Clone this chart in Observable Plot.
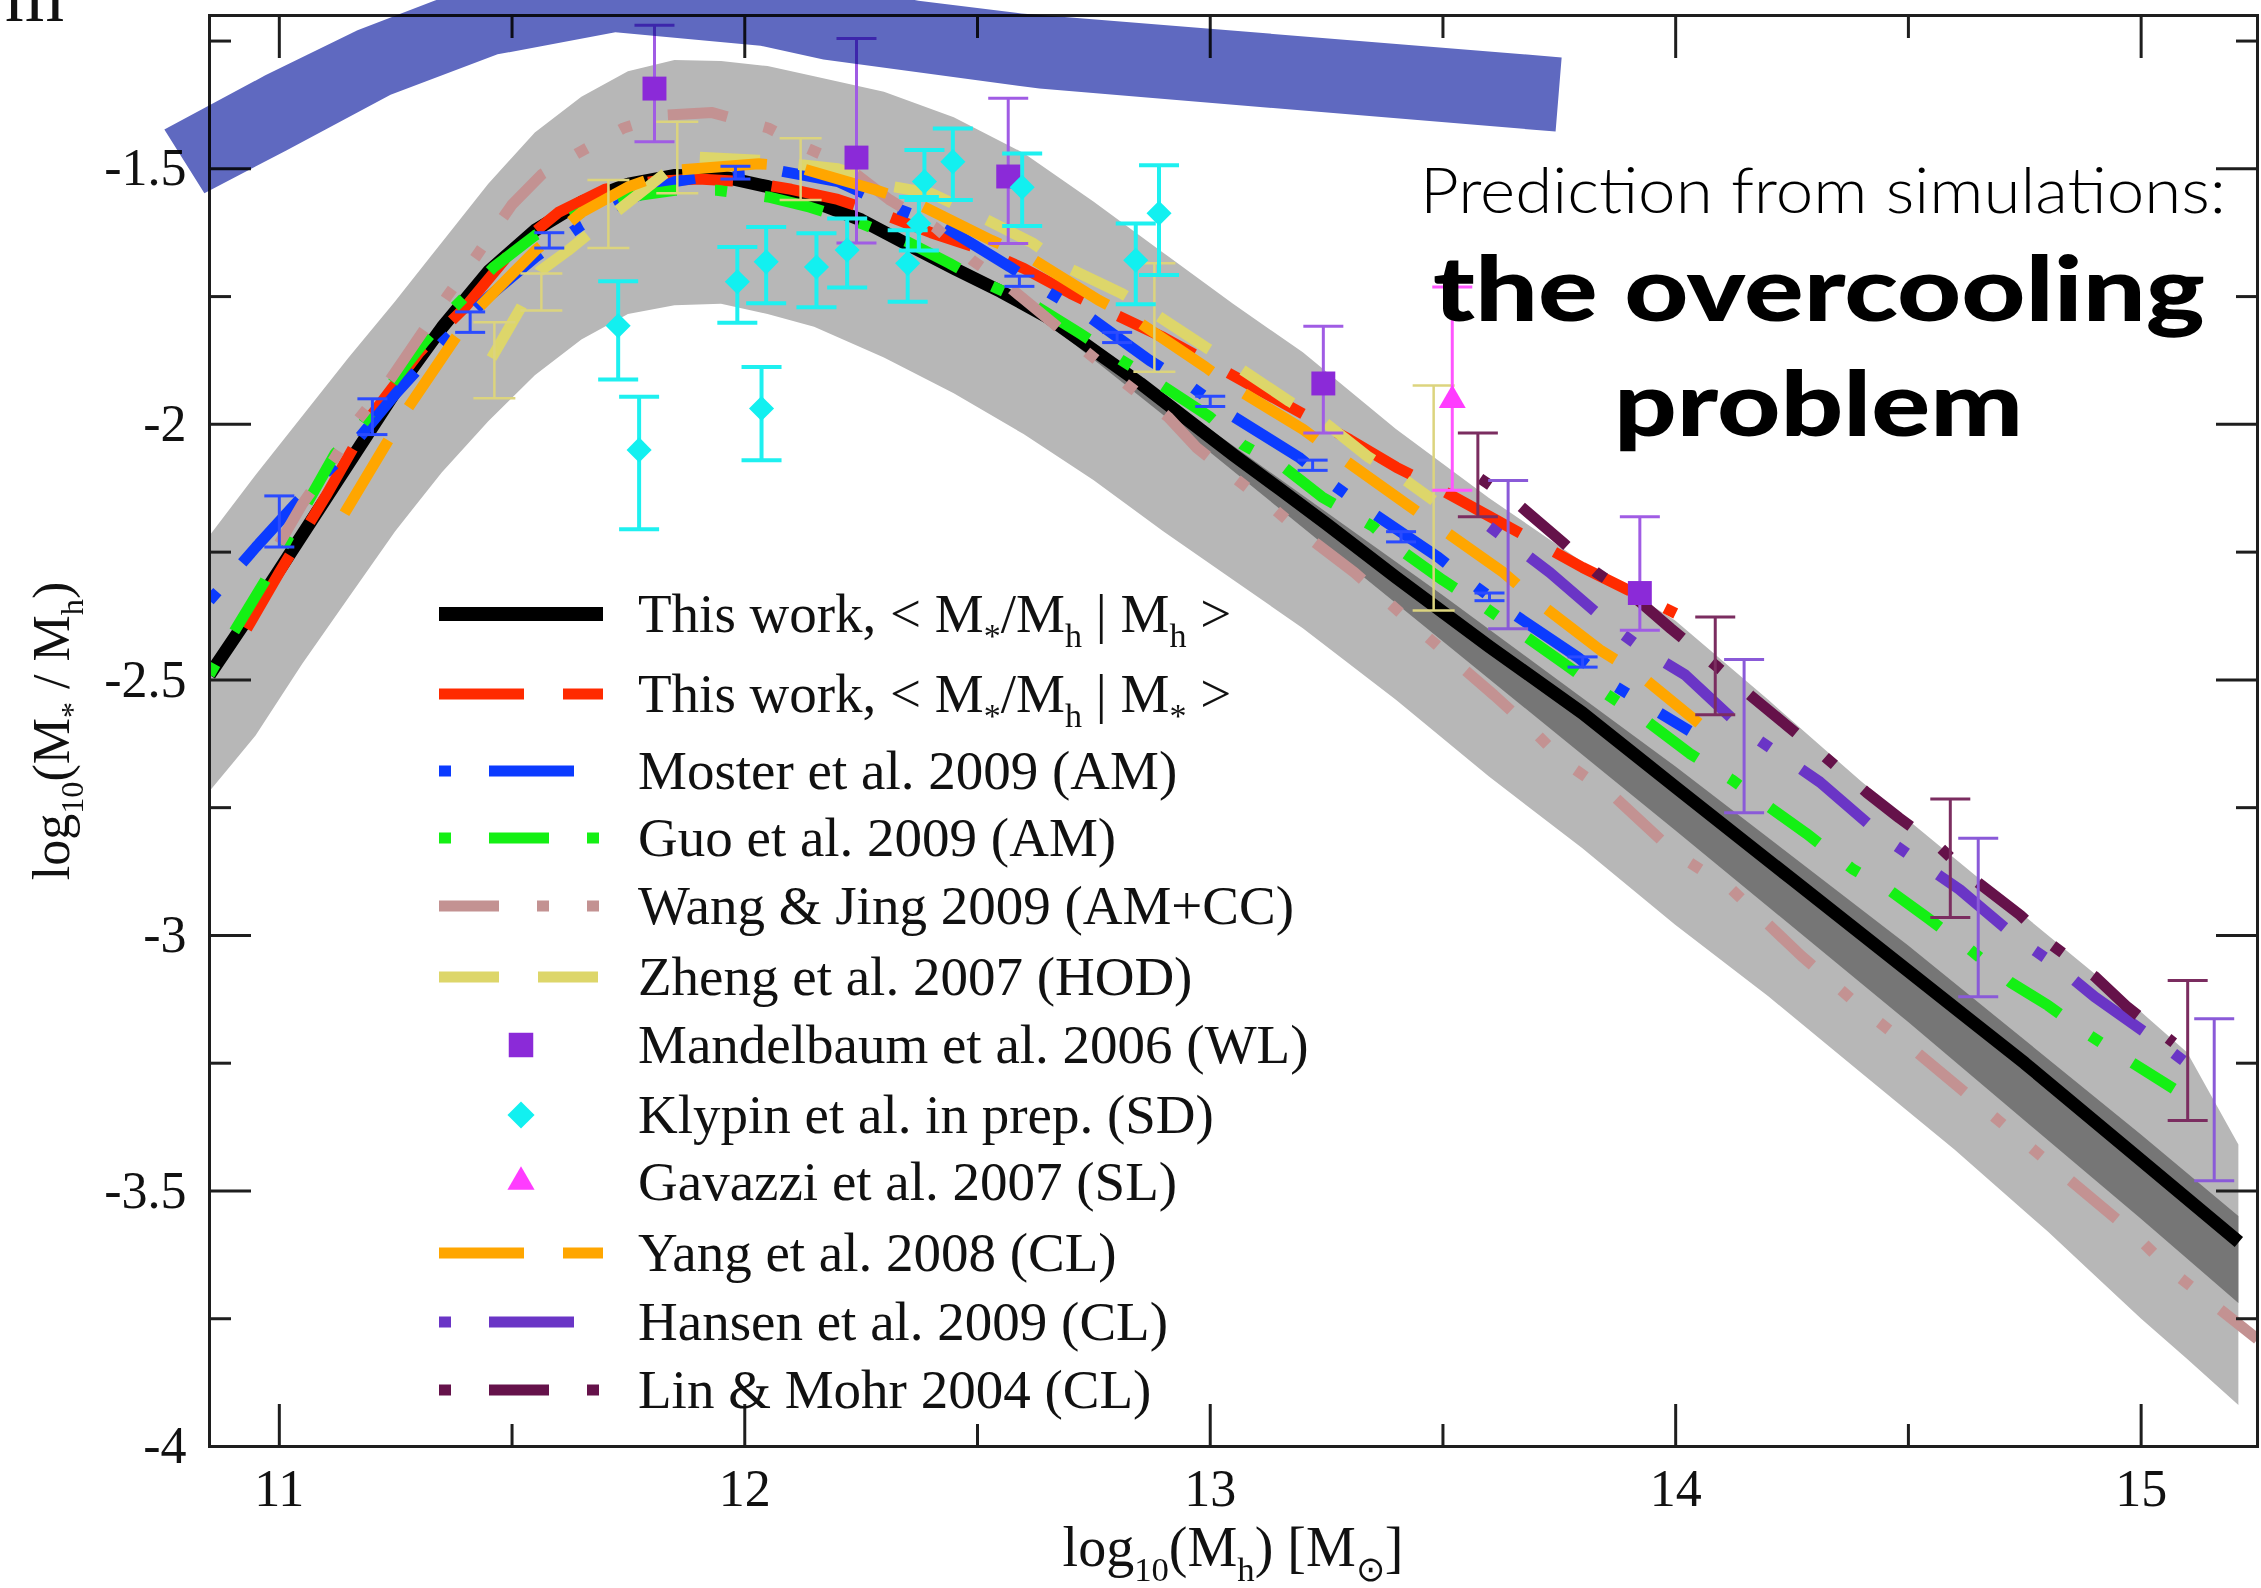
<!DOCTYPE html>
<html><head><meta charset="utf-8">
<script src="https://cdn.jsdelivr.net/npm/d3@7"></script>
<script src="https://cdn.jsdelivr.net/npm/@observablehq/plot@0.6"></script>
<style>
html,body{margin:0;padding:0;background:#fff;overflow:hidden;}
#chart{position:relative;width:2261px;height:1588px;}
</style></head><body><div id="chart"></div>
<script>
// ================= DATA =================
const xMajorTicks = [11, 12, 13, 14, 15];
const xMinorTicks = [11.5, 12.5, 13.5, 14.5];
const yMajorTicks = [-4, -3.5, -3, -2.5, -2, -1.5];
const yMinorTicks = [-3.75, -3.25, -2.75, -2.25, -1.75, -1.25];

// light grey scatter band: [log Mh, lower, upper]
const bandX = [10.85,10.95,11.05,11.15,11.25,11.35,11.45,11.55,11.65,11.75,11.85,11.95,12.05,12.15,12.3,12.45,12.6,12.75,12.9,13.05,13.2,13.4,13.6,13.8,14.0,14.2,14.4,14.6,14.8,15.0,15.1,15.21];
const bandUpper = [-2.22,-2.10,-1.985,-1.87,-1.76,-1.645,-1.53,-1.43,-1.36,-1.31,-1.288,-1.29,-1.30,-1.32,-1.35,-1.40,-1.47,-1.565,-1.665,-1.765,-1.86,-2.01,-2.145,-2.27,-2.385,-2.54,-2.70,-2.85,-3.0,-3.15,-3.23,-3.41];
const bandLower = [-2.72,-2.61,-2.47,-2.34,-2.21,-2.095,-1.995,-1.905,-1.835,-1.785,-1.768,-1.765,-1.785,-1.81,-1.87,-1.94,-2.02,-2.11,-2.21,-2.305,-2.40,-2.54,-2.69,-2.83,-2.98,-3.12,-3.27,-3.42,-3.58,-3.75,-3.83,-3.92];
// dark grey band at high mass: [log Mh, lower, upper]
const darkBand = [[12.6,-1.765,-1.765],[13.0,-2.055,-2.01],[13.5,-2.425,-2.335],[14.0,-2.795,-2.67],[14.5,-3.17,-3.02],[15.0,-3.555,-3.39],[15.21,-3.72,-3.55]];

// model curves: [log Mh, log(M*/Mh)]
const thisWorkMh = [[10.85,-2.49],[10.95,-2.355],[11.05,-2.215],[11.15,-2.075],[11.25,-1.935],[11.35,-1.81],[11.45,-1.70],[11.55,-1.62],[11.65,-1.565],[11.75,-1.53],[11.85,-1.513],[11.95,-1.515],[12.05,-1.535],[12.15,-1.565],[12.25,-1.6],[12.35,-1.648],[12.45,-1.695],[12.55,-1.74],[12.65,-1.79],[12.75,-1.855],[12.85,-1.92],[12.95,-1.99],[13.05,-2.06],[13.15,-2.127],[13.25,-2.195],[13.4,-2.30],[13.6,-2.435],[13.8,-2.565],[14.0,-2.71],[14.25,-2.89],[14.5,-3.07],[14.75,-3.25],[15.0,-3.44],[15.21,-3.60]];
const thisWorkMstar = [[10.93,-2.40],[11.0,-2.29],[11.1,-2.14],[11.2,-1.98],[11.3,-1.86],[11.4,-1.77],[11.5,-1.66],[11.6,-1.585],[11.7,-1.54],[11.8,-1.525],[11.9,-1.52],[12.0,-1.525],[12.1,-1.54],[12.2,-1.56],[12.3,-1.59],[12.4,-1.625],[12.5,-1.655],[12.6,-1.695],[12.7,-1.744],[12.8,-1.787],[12.9,-1.83],[13.0,-1.88],[13.1,-1.93],[13.2,-1.98],[13.3,-2.03],[13.4,-2.084],[13.5,-2.13],[13.6,-2.18],[13.7,-2.23],[13.8,-2.28],[13.9,-2.325],[14.0,-2.37]];
const moster = [[10.85,-2.345],[10.95,-2.24],[11.05,-2.14],[11.15,-2.05],[11.25,-1.94],[11.35,-1.84],[11.45,-1.75],[11.55,-1.673],[11.65,-1.61],[11.75,-1.56],[11.85,-1.525],[11.95,-1.51],[12.07,-1.503],[12.2,-1.525],[12.32,-1.575],[12.43,-1.614],[12.57,-1.692],[12.65,-1.74],[12.73,-1.783],[12.87,-1.875],[12.95,-1.92],[13.04,-1.979],[13.19,-2.064],[13.26,-2.116],[13.34,-2.168],[13.49,-2.26],[13.56,-2.31],[13.64,-2.364],[13.79,-2.456],[13.86,-2.507],[14.03,-2.60]];
const guo = [[10.85,-2.49],[10.9,-2.41],[10.97,-2.305],[11.05,-2.17],[11.12,-2.057],[11.18,-1.998],[11.25,-1.91],[11.31,-1.84],[11.37,-1.777],[11.46,-1.693],[11.55,-1.63],[11.65,-1.585],[11.75,-1.555],[11.85,-1.542],[11.94,-1.542],[12.05,-1.555],[12.14,-1.575],[12.25,-1.607],[12.35,-1.643],[12.44,-1.685],[12.52,-1.725],[12.63,-1.771],[12.72,-1.822],[12.81,-1.875],[12.89,-1.92],[13.0,-1.986],[13.07,-2.04],[13.16,-2.085],[13.24,-2.142],[13.35,-2.2],[13.42,-2.253],[13.5,-2.305],[13.59,-2.358],[13.69,-2.423],[13.76,-2.468],[13.85,-2.527],[13.93,-2.575],[14.03,-2.644],[14.12,-2.695],[14.2,-2.748],[14.28,-2.80],[14.38,-2.87],[14.46,-2.912],[14.54,-2.965],[14.63,-3.026],[14.72,-3.092],[14.8,-3.137],[14.88,-3.19],[14.97,-3.243],[15.07,-3.30]];
const wangJing = [[11.0,-2.233],[11.05,-2.155],[11.116,-2.07],[11.17,-1.99],[11.24,-1.91],[11.3,-1.83],[11.36,-1.75],[11.42,-1.675],[11.5,-1.57],[11.565,-1.51],[11.64,-1.47],[11.74,-1.42],[11.83,-1.395],[11.93,-1.39],[12.05,-1.42],[12.13,-1.458],[12.21,-1.49],[12.31,-1.56],[12.41,-1.615],[12.49,-1.68],[12.55,-1.718],[12.66,-1.80],[12.73,-1.855],[12.8,-1.907],[12.91,-1.986],[12.97,-2.045],[13.06,-2.11],[13.13,-2.16],[13.2,-2.214],[13.31,-2.29],[13.41,-2.37],[13.54,-2.475],[13.61,-2.53],[13.70,-2.605],[13.76,-2.66],[13.87,-2.73],[14.0,-2.84],[14.12,-2.91],[14.27,-3.04],[14.41,-3.15],[14.52,-3.23],[14.98,-3.58],[15.07,-3.66],[15.25,-3.79]];
const zheng = [[11.456,-1.87],[11.52,-1.77],[11.56,-1.70],[11.62,-1.66],[11.72,-1.587],[11.83,-1.508],[11.895,-1.477],[12.03,-1.483],[12.2,-1.50],[12.32,-1.535],[12.40,-1.548],[12.51,-1.595],[12.62,-1.646],[12.69,-1.692],[12.81,-1.744],[12.88,-1.783],[12.99,-1.849],[13.06,-1.888],[13.17,-1.955],[13.24,-1.992],[13.34,-2.064],[13.41,-2.103],[13.48,-2.149]];
const yang = [[11.14,-2.174],[11.235,-2.03],[11.277,-1.967],[11.38,-1.829],[11.43,-1.77],[11.55,-1.66],[11.65,-1.585],[11.75,-1.535],[11.85,-1.503],[12.03,-1.49],[12.11,-1.496],[12.28,-1.541],[12.37,-1.568],[12.53,-1.64],[12.61,-1.672],[12.76,-1.757],[12.83,-1.79],[12.99,-1.888],[13.05,-1.927],[13.2,-2.01],[13.28,-2.064],[13.42,-2.155],[13.49,-2.2],[13.63,-2.29],[13.70,-2.345],[13.84,-2.443],[13.92,-2.488],[14.05,-2.585]];
const hansen = [[13.6,-2.20],[13.73,-2.29],[13.87,-2.40],[13.93,-2.44],[14.02,-2.49],[14.15,-2.60],[14.23,-2.65],[14.31,-2.70],[14.45,-2.81],[14.53,-2.86],[14.61,-2.91],[14.74,-3.01],[14.82,-3.06],[14.9,-3.12],[15.04,-3.21],[15.12,-3.265]];
const linMohr = [[13.58,-2.106],[13.66,-2.155],[13.76,-2.233],[13.83,-2.29],[13.92,-2.345],[13.99,-2.40],[14.09,-2.475],[14.16,-2.53],[14.24,-2.59],[14.32,-2.65],[14.41,-2.72],[14.48,-2.77],[14.57,-2.83],[14.64,-2.89],[14.74,-2.96],[14.81,-3.02],[14.9,-3.08],[14.97,-3.14],[15.07,-3.21]];

// observational points: [log Mh, value, low, high]
const mandelbaumPts = [[11.806,-1.343,-1.447,-1.219],[12.24,-1.478,-1.645,-1.245],[12.566,-1.515,-1.646,-1.362],[13.243,-1.92,-2.017,-1.808],[13.923,-2.33,-2.403,-2.181]];
const klypinPts = [[11.728,-1.807,-1.912,-1.72],[11.773,-2.05,-2.205,-1.946],[11.984,-1.721,-1.801,-1.653],[12.036,-1.969,-2.07,-1.888],[12.046,-1.682,-1.763,-1.614],[12.154,-1.692,-1.771,-1.626],[12.22,-1.659,-1.732,-1.597],[12.35,-1.685,-1.76,-1.62],[12.374,-1.607,-1.66,-1.555],[12.386,-1.525,-1.561,-1.463],[12.447,-1.486,-1.561,-1.421],[12.596,-1.536,-1.612,-1.47],[12.84,-1.679,-1.765,-1.607],[12.89,-1.587,-1.708,-1.493]];
const gavazziPts = [[13.52,-1.953,-2.129,-1.731]];
// error bars without symbols: [log Mh, low, high]
const zhengBars = [[11.462,-1.949,-1.80],[11.563,-1.777,-1.705],[11.707,-1.655,-1.522],[11.855,-1.548,-1.408],[12.12,-1.561,-1.44],[12.88,-1.897,-1.685],[13.48,-2.364,-1.924]];
const mosterBars = [[11.0,-2.24,-2.14],[11.2,-2.02,-1.95],[11.41,-1.82,-1.78],[11.58,-1.655,-1.625],[11.98,-1.52,-1.495],[12.59,-1.73,-1.71],[12.80,-1.84,-1.82],[13.0,-1.965,-1.945],[13.22,-2.09,-2.07],[13.41,-2.23,-2.21],[13.6,-2.345,-2.33],[13.8,-2.475,-2.455]];
const hansenBars = [[13.64,-2.40,-2.11],[14.147,-2.76,-2.46],[14.65,-3.12,-2.81],[15.157,-3.48,-3.163]];
const linBars = [[13.575,-2.181,-2.017],[14.085,-2.568,-2.377],[14.59,-2.965,-2.733],[15.1,-3.362,-3.088]];

// hand-drawn "prediction from simulations" band (outline, data coordinates)
const simulationBand = [[10.753,-1.423],[10.970,-1.317],[11.168,-1.229],[11.333,-1.171],[11.469,-1.132],[11.722,-1.089],[12.034,-1.116],[12.373,-1.171],[12.594,-1.196],[13.755,-1.282],[13.742,-1.427],[12.633,-1.343],[12.169,-1.286],[12.034,-1.259],[11.722,-1.233],[11.469,-1.276],[11.239,-1.355],[11.015,-1.464],[10.839,-1.548]];

// legend labels (segments: [text, isSubscript])
const legendLabels = [
  [["This work, < M",0],["*",1],["/M",0],["h",1],[" | M",0],["h",1],[" >",0]],
  [["This work, < M",0],["*",1],["/M",0],["h",1],[" | M",0],["*",1],[" >",0]],
  [["Moster et al. 2009 (AM)",0]],
  [["Guo et al. 2009 (AM)",0]],
  [["Wang & Jing 2009 (AM+CC)",0]],
  [["Zheng et al. 2007 (HOD)",0]],
  [["Mandelbaum et al. 2006 (WL)",0]],
  [["Klypin et al. in prep. (SD)",0]],
  [["Gavazzi et al. 2007 (SL)",0]],
  [["Yang et al. 2008 (CL)",0]],
  [["Hansen et al. 2009 (CL)",0]],
  [["Lin & Mohr 2004 (CL)",0]]
];
const xTitle = [["log",0],["10",1],["(M",0],["h",1],[") [M",0],["\u2299",1],["]",0]];
const yTitle = [["log",0],["10",1],["(M",0],["*",1],[" / M",0],["h",1],[")",0]];
const annotationLines = ["Prediction from simulations:", "the overcooling", "problem"];

// ================= STYLES =================
const S = {
  black:  {color:"#000000", width:13, dash:null},
  red:    {color:"#ff2a00", width:11, dash:"85,39"},
  blue:   {color:"#0b3bff", width:11, dash:"12,38,85,38"},
  green:  {color:"#14f014", width:11, dash:"12,38,60,38"},
  rosy:   {color:"#c39292", width:11, dash:"60,38,12,38,12,38"},
  khaki:  {color:"#ddd66a", width:11, dash:"60,39"},
  orange: {color:"#ffa600", width:11, dash:"85,39"},
  hansen: {color:"#6a35c6", width:11, dash:"12,38,85,38"},
  lin:    {color:"#65124a", width:11, dash:"12,38,60,38"}
};
const SERIF = "'Liberation Serif','Times New Roman',Times,serif";
const capSymbol = {draw(ctx, size){ const r = Math.sqrt(size/Math.PI); ctx.moveTo(-r,0); ctx.lineTo(r,0); }};

const fx = d => d[0], fy = d => d[1];
const curve = (data, st) => Plot.line(data, {x: fx, y: fy, stroke: st.color, strokeWidth: st.width,
  strokeDasharray: st.dash, strokeLinecap: "butt", strokeLinejoin: "round", clip: true});
function bars(data, lo, color, width, cap) {
  return [
    Plot.ruleX(data, {x: fx, y1: d => d[lo], y2: d => d[lo+1], stroke: color, strokeWidth: width}),
    Plot.dot(data, {x: fx, y: d => d[lo], symbol: capSymbol, r: cap, stroke: color, strokeWidth: width, fill: "none"}),
    Plot.dot(data, {x: fx, y: d => d[lo+1], symbol: capSymbol, r: cap, stroke: color, strokeWidth: width, fill: "none"})
  ];
}
const bandRows = bandX.map((x, i) => [x, bandLower[i], bandUpper[i]]);
const tickAxis = (k, anchor, ticks, size) => (k === "x" ? Plot.axisX : Plot.axisY)({anchor, ticks, tickSize: -size,
  tickFormat: () => "", label: null, stroke: "#1e1e1e", strokeWidth: 3});

const chart = Plot.plot({
  width: 2261, height: 1588,
  marginTop: 15, marginLeft: 209, marginRight: 4, marginBottom: 142,
  x: {domain: [10.85, 15.25]},
  y: {domain: [-4, -1.2]},
  style: {fontFamily: SERIF, fontSize: "52px", color: "#111", background: "#fff"},
  marks: [
    Plot.areaY(bandRows, {x: fx, y1: d => d[1], y2: d => d[2], fill: "#b7b7b7", clip: true}),
    Plot.areaY(darkBand, {x: fx, y1: d => d[1], y2: d => d[2], fill: "#767676", clip: true}),
    curve(thisWorkMh, S.black),
    curve(thisWorkMstar, S.red),
    curve(moster, S.blue),
    curve(guo, S.green),
    curve(wangJing, S.rosy),
    curve(zheng, S.khaki),
    curve(yang, S.orange),
    curve(hansen, S.hansen),
    curve(linMohr, S.lin),
    bars(zhengBars, 1, "#dcd47e", 2.5, 21),
    bars(mosterBars, 1, "#2a4bff", 3, 15),
    bars(hansenBars, 1, "#8a5ad8", 3, 20),
    bars(linBars, 1, "#7b2d60", 3, 20),
    bars(mandelbaumPts, 2, "#a05ce4", 3, 20),
    bars(klypinPts, 2, "#1ef0f0", 4, 20),
    bars(gavazziPts, 2, "#ff55ff", 3, 20),
    Plot.dot(mandelbaumPts, {x: fx, y: fy, symbol: "square", r: 13.5, fill: "#8b2ad8", stroke: "none"}),
    Plot.dot(klypinPts, {x: fx, y: fy, symbol: "diamond2", r: 11.3, fill: "#12f0f0", stroke: "none"}),
    Plot.dot(gavazziPts, {x: fx, y: fy, symbol: "triangle", r: 10, fill: "#ff3cff", stroke: "none"}),
    Plot.frame({stroke: "#1e1e1e", strokeWidth: 3}),
    tickAxis("x", "bottom", xMajorTicks, 42), tickAxis("x", "bottom", xMinorTicks, 22),
    tickAxis("x", "top", xMajorTicks, 42), tickAxis("x", "top", xMinorTicks, 22),
    tickAxis("y", "left", yMajorTicks, 42), tickAxis("y", "left", yMinorTicks, 22),
    tickAxis("y", "right", yMajorTicks, 42), tickAxis("y", "right", yMinorTicks, 22),
    Plot.axisX({anchor: "bottom", ticks: xMajorTicks, tickSize: 0, tickPadding: 23, tickFormat: d => String(d), label: null, fontSize: 52, fill: "#111"}),
    Plot.axisY({anchor: "left", ticks: yMajorTicks, tickSize: 0, tickPadding: 23, tickFormat: d => String(d), label: null, fontSize: 52, fill: "#111"}),
    Plot.line(simulationBand, {x: fx, y: fy, fill: "#5f69c0", stroke: "none", clip: false, mixBlendMode: "multiply"})
  ]
});
document.getElementById("chart").appendChild(chart);

// ================= TEXT OVERLAYS (legend, titles, annotation) =================
const svg = d3.select(chart);
function richText(parent, segs, size, subScale = 0.62, subDrop = 0.27) {
  const t = parent.append("text").style("white-space", "pre").attr("font-size", size).attr("text-anchor", "start");
  let shift = 0;
  for (const [s, sub] of segs) {
    const target = sub ? size * subDrop : 0;
    t.append("tspan").attr("font-size", sub ? size * subScale : size).attr("dy", target - shift).text(s);
    shift = target;
  }
  return t;
}
const legendRowY = [614, 694, 771, 838, 906, 977, 1045, 1115, 1182, 1253, 1322, 1390];
const legendKeys = [
  {line: S.black, w: 14}, {line: S.red}, {line: S.blue}, {line: S.green}, {line: S.rosy}, {line: S.khaki},
  {sym: d3.symbolSquare, size: 600, color: "#8b2ad8"},
  {sym: d3.symbolDiamond2, size: 470, color: "#12f0f0"},
  {sym: d3.symbolTriangle, size: 320, color: "#ff3cff"},
  {line: S.orange}, {line: S.hansen}, {line: S.lin}
];
const lg = svg.append("g").attr("font-family", SERIF).attr("fill", "#111").attr("text-anchor", "start");
legendKeys.forEach((k, i) => {
  const y = legendRowY[i];
  if (k.line) {
    lg.append("line").attr("x1", 439).attr("x2", 603).attr("y1", y).attr("y2", y)
      .attr("stroke", k.line.color).attr("stroke-width", k.w || k.line.width)
      .attr("stroke-dasharray", k.line.dash).attr("stroke-linecap", "butt");
  } else {
    lg.append("path").attr("d", d3.symbol(k.sym, k.size)()).attr("transform", `translate(521,${y})`).attr("fill", k.color);
  }
  richText(lg, legendLabels[i], 55).attr("x", 638).attr("y", y + 18);
});

// axis titles
richText(svg.append("g").attr("font-family", SERIF).attr("fill", "#111"), xTitle, 56)
  .attr("x", 1233).attr("y", 1566).attr("text-anchor", "middle");
richText(svg.append("g").attr("font-family", SERIF).attr("fill", "#111"), yTitle, 52)
  .attr("text-anchor", "middle").attr("transform", "translate(69,731) rotate(-90)");

// stray glyph at the top-left corner of the slide (cut by the slide edge in the reference)
svg.append("text").attr("x", 5).attr("y", 21).attr("text-anchor", "start").attr("font-family", SERIF)
  .attr("font-size", 76).attr("fill", "#111").text("m");

// annotation
const an = svg.append("g").attr("font-family", "Lato, 'Open Sans', 'Noto Sans', sans-serif").attr("fill", "#000").attr("text-anchor", "start");
an.append("text").attr("x", 1420).attr("y", 213).attr("font-size", 64).attr("font-weight", 300).attr("text-anchor", "start")
  .attr("textLength", 806).attr("lengthAdjust", "spacingAndGlyphs").text(annotationLines[0]);
an.append("text").attr("x", 1433).attr("y", 321).attr("font-size", 90).attr("font-weight", 900).attr("text-anchor", "start")
  .attr("textLength", 772).attr("lengthAdjust", "spacingAndGlyphs").text(annotationLines[1]);
an.append("text").attr("x", 1614).attr("y", 436).attr("font-size", 90).attr("font-weight", 900).attr("text-anchor", "start")
  .attr("textLength", 409).attr("lengthAdjust", "spacingAndGlyphs").text(annotationLines[2]);
</script>
</body></html>
